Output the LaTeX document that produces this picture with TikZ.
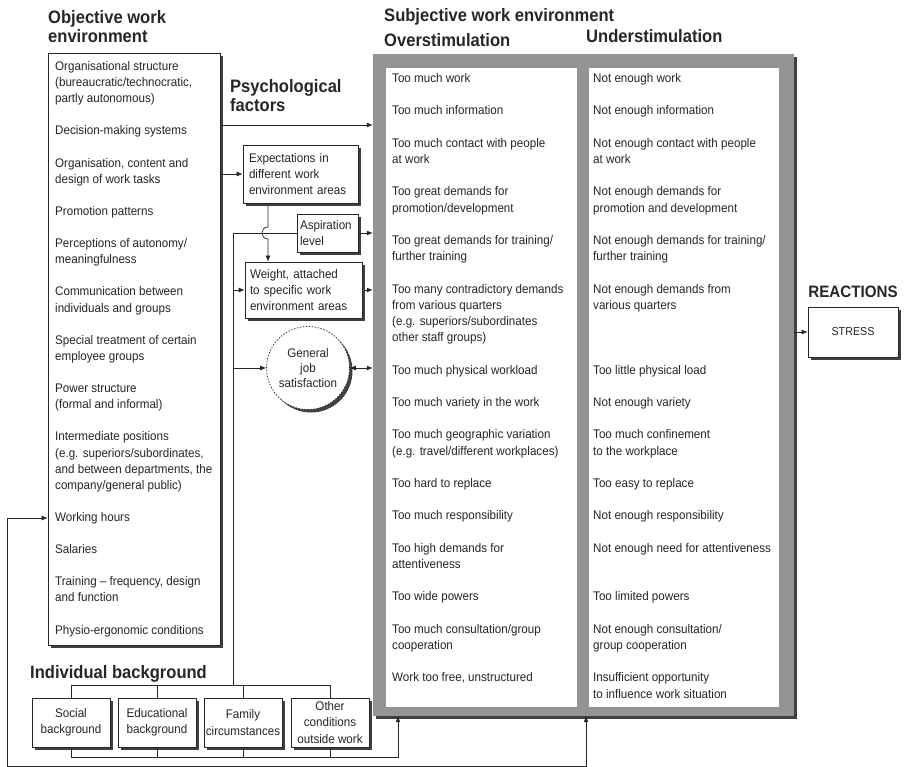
\documentclass[tikz,border=0pt]{standalone}
\usepackage{fontspec}
\setmainfont{Liberation Sans}[FakeStretch=0.93]
\newfontfamily\headfont{Liberation Sans}[FakeStretch=0.92]
\usetikzlibrary{arrows.meta,shadows,calc}

% stacked lines whose baseline is that of the first line
\newcommand\ml[1]{\begin{tabular}[t]{@{}l@{}}#1\end{tabular}}

\tikzset{
  body/.style={font=\fontsize{12.5}{16.2}\selectfont, text=black!85, inner sep=0pt},
  head/.style={font=\headfont\bfseries\fontsize{18}{18.5}\selectfont, text=black!85, inner sep=0pt, anchor=base west},
  shade/.style={drop shadow={shadow xshift=3pt, shadow yshift=-3pt, fill=black!75, opacity=1}},
  box/.style={draw=black!85, line width=0.7pt, fill=white, shade, rectangle},
  link/.style={draw=black!85, line width=0.7pt},
  tip/.style={-{Latex[length=6pt,width=5pt]}},
  bgbox/.style={box, minimum width=78pt, minimum height=49pt, inner sep=2pt, align=center,
    font=\fontsize{12.5}{16.2}\selectfont, text=black!85},
}

% one row of the subjective work environment: name, line index, over-, understimulation text
\newcommand\swerow[4]{%
  \node[body, anchor=base west] (ov#1) at (392,{82.5+16.2*#2}) {\ml{#3}};
  \node[body, anchor=base west] (un#1) at (593,{82.5+16.2*#2}) {\ml{#4}};}
% one item of the objective work environment list
\newcommand\owitem[3]{%
  \node[body, anchor=base west] (ow#1) at (55,{70.5+16.1*#2}) {\ml{#3}};}

\begin{document}
\begin{tikzpicture}[x=1pt,y=-1pt]
\useasboundingbox (0,0) rectangle (905,767);

% ---------- headings ----------
\node[head] (hobj) at (48,23.5) {\ml{Objective work\\environment}};
\node[head] (hpsy) at (230,93) {\ml{Psychological\\factors}};
\node[head] (hswe) at (384,21.5) {Subjective work environment};
\node[head] (hover) at (384,47) {Overstimulation};
\node[head] (hunder) at (586,42.5) {Understimulation};
\node[head] (hind) at (30,678) {Individual background};
\node[head, anchor=base, font=\headfont\bfseries\fontsize{16.5}{18}\selectfont] (hreact) at (853,298) {REACTIONS};

% ---------- objective work environment ----------
\node[box, minimum width=172pt, minimum height=592pt] (obj) at (134,349) {};
\owitem{1}{0}{Organisational structure\\(bureaucratic/technocratic,\\partly autonomous)}
\owitem{2}{4}{Decision-making systems}
\owitem{3}{6}{Organisation, content and\\design of work tasks}
\owitem{4}{9}{Promotion patterns}
\owitem{5}{11}{Perceptions of autonomy/\\meaningfulness}
\owitem{6}{14}{Communication between\\individuals and groups}
\owitem{7}{17}{Special treatment of certain\\employee groups}
\owitem{8}{20}{Power structure\\(formal and informal)}
\owitem{9}{23}{Intermediate positions\\(e.g. superiors/subordinates,\\and between departments, the\\company/general public)}
\owitem{10}{28}{Working hours}
\owitem{11}{30}{Salaries}
\owitem{12}{32}{Training -- frequency, design\\and function}
\owitem{13}{35}{Physio-ergonomic conditions}

% ---------- subjective work environment ----------
\node[shade, fill=black!42, minimum width=421pt, minimum height=662pt, inner sep=0pt] (subj) at (583.5,385) {};
\node[fill=white, minimum width=191pt, minimum height=639pt, inner sep=0pt] (col1) at (481.5,387.5) {};
\node[fill=white, minimum width=190pt, minimum height=639pt, inner sep=0pt] (col2) at (684,387.5) {};
\swerow{1}{0}{Too much work}{Not enough work}
\swerow{2}{2}{Too much information}{Not enough information}
\swerow{3}{4}{Too much contact with people\\at work}{Not enough contact with people\\at work}
\swerow{4}{7}{Too great demands for\\promotion/development}{Not enough demands for\\promotion and development}
\swerow{5}{10}{Too great demands for training/\\further training}{Not enough demands for training/\\further training}
\swerow{6}{13}{Too many contradictory demands\\from various quarters\\(e.g. superiors/subordinates\\other staff groups)}{Not enough demands from\\various quarters}
\swerow{7}{18}{Too much physical workload}{Too little physical load}
\swerow{8}{20}{Too much variety in the work}{Not enough variety}
\swerow{9}{22}{Too much geographic variation\\(e.g. travel/different workplaces)}{Too much confinement\\to the workplace}
\swerow{10}{25}{Too hard to replace}{Too easy to replace}
\swerow{11}{27}{Too much responsibility}{Not enough responsibility}
\swerow{12}{29}{Too high demands for\\attentiveness}{Not enough need for attentiveness}
\swerow{13}{32}{Too wide powers}{Too limited powers}
\swerow{14}{34}{Too much consultation/group\\cooperation}{Not enough consultation/\\group cooperation}
\swerow{15}{37}{Work too free, unstructured}{Insufficient opportunity\\to influence work situation}

% ---------- psychological factors ----------
\node[box, minimum width=115pt, minimum height=58pt, text width=103pt, inner sep=6pt, align=left, body] (expect) at (300.5,174) {Expectations in\\different work\\environment areas};
\node[box, minimum width=61pt, minimum height=38pt, text width=55pt, inner sep=3pt, align=left, body] (aspir) at (327.5,233) {Aspiration\\level};
\node[box, minimum width=117pt, minimum height=56pt, text width=107pt, inner sep=5pt, align=left, body] (weight) at (303.5,290) {Weight, attached\\to specific work\\environment areas};
\node[circle, draw=black!85, line width=0.7pt, dash pattern=on 1.5pt off 1.5pt, fill=white, shade,
      minimum size=83pt, inner sep=0pt, align=center, font=\fontsize{12.5}{15.2}\selectfont, text=black!85] (satis) at (308,368) {General\\job\\satisfaction};

% ---------- reactions ----------
\node[box, minimum width=90pt, minimum height=50pt, font=\fontsize{11.5}{13}\selectfont, text=black!85] (stress) at (853,332) {STRESS};

% ---------- individual background ----------
\node[bgbox] (bg1) at (71,722.5) {Social\\background};
\node[bgbox] (bg2) at (157,722.5) {Educational\\background};
\node[bgbox] (bg3) at (243,722.5) {Family\\circumstances};
\node[bgbox] (bg4) at (330,722.5) {Other\\conditions\\outside work};

% ---------- connectors ----------
\coordinate (psyrow) at (0,125);
\coordinate (vtop) at (233,233);
\coordinate (vbot) at (233,685);
\coordinate (hop) at (268,233);
\coordinate (brtop) at (0,685);
\coordinate (brbot) at (0,757);
\coordinate (up1) at (398,757);
\coordinate (fbl) at (7,766);
\coordinate (fbr) at (586,766);

\draw[link,tip] (obj.east |- psyrow) -- (subj.west |- psyrow);
\draw[link,tip] (obj.east |- expect.west) -- (expect.west);
\draw[link] (vtop) -- (aspir.west);
\draw[link,tip] (aspir.east) -- (subj.west |- aspir.east);
\draw[link,tip] (weight.east) -- (subj.west |- weight.east);
\draw[link,{Latex[length=6pt,width=5pt]}-{Latex[length=6pt,width=5pt]}] (satis.east) -- (subj.west |- satis.east);
\draw[link,tip] (subj.east |- stress.west) -- (stress.west);

% expectations feed the weights, hopping over the aspiration line
\draw[link,tip] (expect.south -| hop) -- ($(hop)+(0,-6)$)
  .. controls ($(hop)+(-8,-6)$) and ($(hop)+(-8,6)$) .. ($(hop)+(0,6)$)
  -- (weight.north -| hop);

% individual background to the psychological factors
\draw[link] (vtop) -- (vbot);
\draw[link,tip] (vtop |- weight.west) -- (weight.west);
\draw[link,tip] (vtop |- satis.west) -- (satis.west);
\draw[link] (bg1.north |- brtop) -- (bg4.north |- brtop);
\foreach \b in {bg1,bg2,bg3,bg4} {
  \draw[link] (\b.north) -- (\b.north |- brtop);
  \draw[link] (\b.south) -- (\b.south |- brbot);
}

% individual background to the subjective work environment
\draw[link,tip] (bg1.south |- brbot) -- (up1) -- (up1 |- subj.south);

% working hours linked with the subjective work environment
\draw[link,{Latex[length=6pt,width=5pt]}-{Latex[length=6pt,width=5pt]}]
  (obj.west |- ow10.west) -- (fbl |- ow10.west) -- (fbl) -- (fbr) -- (fbr |- subj.south);
\end{tikzpicture}
\end{document}
